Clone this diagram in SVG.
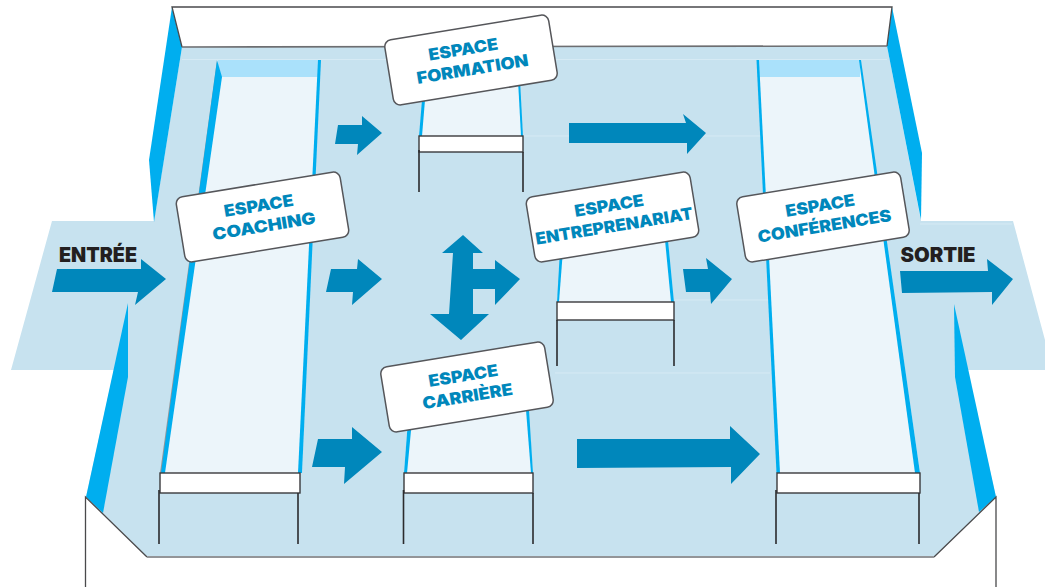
<svg xmlns="http://www.w3.org/2000/svg" width="1045" height="587" viewBox="0 0 1045 587">
<style>
.wedge{fill:#00aeef}
.strip{fill:#00aeef}
.pale{fill:#ecf5fa}
.head{fill:#aae1fb}
.bar{fill:#fff;stroke:#3a3a3c;stroke-width:1.4}
.leg{stroke:#2b2b2d;stroke-width:1.6;fill:none}
.wall{fill:#fff;stroke:none}
.edge{fill:none;stroke:#4a4a4c;stroke-width:1.3}
.faint{stroke:#d6eaf4;stroke-width:1;fill:none}
.arrow{fill:#0087bb}
.card{fill:#fff;stroke:#55565a;stroke-width:1.5}
.lab{font-family:"Inter","Liberation Sans",sans-serif;font-weight:900;font-size:16.5px;fill:#0087bb;text-anchor:middle}
.way{font-family:"Inter","Liberation Sans",sans-serif;font-weight:900;font-size:20px;fill:#231f20;text-anchor:middle}
</style>
<defs>
<rect id="card" x="-83" y="-33" width="166" height="66" rx="7" class="card"/>
</defs>
<g id="floor">
<polygon points="182,47 887,46 921,221 1013,221 1045,340 1045,370 967,370 996,497 934,557 147,557 86,497 114,370 11,370 52,221 154,221" fill="#c7e2ef"/>
<polyline class="faint" points="182,59.500 887,59.500"/>
<line class="faint" x1="523" y1="136" x2="762" y2="136"/>
<line class="faint" x1="675" y1="300" x2="770" y2="300"/>
<line class="faint" x1="555" y1="373" x2="770" y2="373"/>
<line class="faint" x1="920" y1="224" x2="1012" y2="224"/>
<polygon class="wedge" points="172,7 182,47 154,222 149,160"/>
<polygon class="wedge" points="892,7 922,153 921,220 887,46"/>
<polygon class="wedge" points="128,303 128,377 103,513 86,497"/>
<polygon class="wedge" points="954,304 955,377 979,512 996,497"/>
</g>
<g id="walls">
<polygon class="wall" points="172,7 892,7 887,46 182,47"/>
<polyline class="edge" points="182,47 172,7 892,7 887,46"/>
<line x1="182" y1="47" x2="887" y2="46" stroke="#6d6e71" stroke-width="1.6"/>
<polygon class="wall" points="86,497 147,557 934,557 996,497 996,587 86,587"/>
<polyline class="edge" points="85.500,587 85.500,497 147,557"/>
<polyline class="edge" points="996,587 996,497 934,557"/>
<line x1="147" y1="557" x2="934" y2="557" stroke="#939598" stroke-width="2"/>
</g>
<g id="stand-coaching">
<polygon class="pale" points="217,60 320,60 302,473 161,473"/>
<rect class="head" x="218" y="60" width="102" height="17"/>
<polygon fill="#939598" points="217,60 218,78 163,473 160,473"/>
<polygon class="strip" points="217,60 222,77 165,473 161,473"/>
<polygon class="strip" points="318,60 321,60 302,473 298,473"/>
<rect class="bar" x="160" y="473" width="140" height="20"/>
<path class="leg" d="M159 490V544M298 493V544"/>
</g>
<g id="stand-formation">
<polygon class="pale" points="425,80 518,80 523,136 419,136"/>
<polygon class="strip" points="422,100 425,100 422,136 419,136"/>
<polygon class="strip" points="518,80 520,80 523,136 521,136"/>
<rect class="bar" x="419" y="136" width="104" height="16"/>
<path class="leg" d="M419 150V192M523 152V192" stroke-width="1.2"/>
</g>
<g id="stand-entreprenariat">
<polygon class="pale" points="562,250 668,240 674,302 557,302"/>
<polygon class="strip" points="560,250 563,250 559,302 557,302"/>
<polygon class="strip" points="665,240 668,240 674,302 671,302"/>
<rect class="bar" x="557" y="302" width="117" height="18"/>
<path class="leg" d="M557 320V366M674 320V366" stroke-width="1.2"/>
</g>
<g id="stand-carriere">
<polygon class="pale" points="408,420 528,410 533,473 404,473"/>
<polygon class="strip" points="408,420 412,420 407,473 404,473"/>
<polygon class="strip" points="526,410 529,410 533,473 531,473"/>
<rect class="bar" x="404" y="473" width="129" height="20"/>
<path class="leg" d="M403.500 490V544M533 493V544"/>
</g>
<g id="stand-conferences">
<polygon class="pale" points="757,60 860,60 920,473 777,473"/>
<rect class="head" x="757" y="60" width="103" height="17"/>
<polygon class="strip" points="756.500,60 759,60 780,473 776.500,473"/>
<polygon class="strip" points="859,60 861,60 920,473 915,473"/>
<rect class="bar" x="777" y="473" width="143" height="20"/>
<path class="leg" d="M776 490V544M919 493V544"/>
</g>
<g id="connectors">
<polygon class="arrow" points="57,269 141,269 141,259 166,279 135,305 138,292 52,292"/>
<polygon class="arrow" points="331,269 357,269 358,259 382,279 352,305 353,292 326,292"/>
<polygon class="arrow" points="318,439 352,439 352,427 382,452 344,484 345,467 312,467"/>
<polygon class="arrow" points="338,125 362,125 362,116 382,133 357,155 358,144 335,144"/>
<polygon class="arrow" points="569,123 686,123 683,114 706,133 687,154 687,143 569,143"/>
<polygon class="arrow" points="683,269 708,269 706,258 732,279 711,304 710,292 686,292"/>
<polygon class="arrow" points="900,271 988,271 987,259 1013,279 992,305 992,292 902,293"/>
<polygon class="arrow" points="577,439 730,439 730,426 760,454 731,484 731,467 577,468"/>
<polygon class="arrow" points="463,235 483,253 473,253 473,269 495,269 495,260 520,279 495,305 495,289 473,289 473,314 489,314 461,340 430,314 449,314 453,253 442,253"/>
</g>
<g id="entree"><text class="way" x="98" y="262" textLength="78" lengthAdjust="spacingAndGlyphs">ENTRÉE</text></g>
<g id="sortie"><text class="way" x="938" y="262" textLength="75" lengthAdjust="spacingAndGlyphs">SORTIE</text></g>
<g id="espace-coaching" transform="translate(262.500 217) rotate(-9.300)">
<use href="#card"/>
<text class="lab" x="-2" y="-6" textLength="70" lengthAdjust="spacingAndGlyphs">ESPACE</text><text class="lab" y="15" textLength="104" lengthAdjust="spacingAndGlyphs">COACHING</text>
</g>
<g id="espace-formation" transform="translate(471 60) rotate(-9.300)">
<use href="#card"/>
<text class="lab" x="-6" y="-6" textLength="70" lengthAdjust="spacingAndGlyphs">ESPACE</text><text class="lab" y="15" textLength="113" lengthAdjust="spacingAndGlyphs">FORMATION</text>
</g>
<g id="espace-entreprenariat" transform="translate(612.500 217) rotate(-9.300)">
<use href="#card"/>
<text class="lab" x="-1.500" y="-6" textLength="70" lengthAdjust="spacingAndGlyphs">ESPACE</text><text class="lab" y="15" textLength="159" lengthAdjust="spacingAndGlyphs">ENTREPRENARIAT</text>
</g>
<g id="espace-conferences" transform="translate(823 217) rotate(-9.300)">
<use href="#card"/>
<text class="lab" x="-1" y="-6" textLength="70" lengthAdjust="spacingAndGlyphs">ESPACE</text><text class="lab" y="15" textLength="135" lengthAdjust="spacingAndGlyphs">CONFÉRENCES</text>
</g>
<g id="espace-carriere" transform="translate(467 387) rotate(-9.300)">
<use href="#card"/>
<text class="lab" x="-2" y="-6" textLength="70" lengthAdjust="spacingAndGlyphs">ESPACE</text><text class="lab" x="-1" y="15" textLength="91" lengthAdjust="spacingAndGlyphs">CARRIÈRE</text>
</g>
</svg>
